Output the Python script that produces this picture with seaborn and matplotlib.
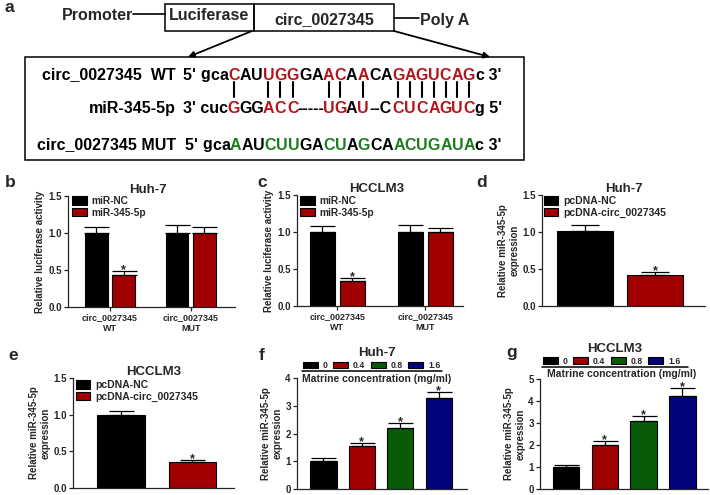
import numpy as np
import pandas as pd
import matplotlib
matplotlib.use("Agg")
import matplotlib.pyplot as plt
import seaborn as sns
from matplotlib.patches import Rectangle, Patch, FancyArrowPatch
from matplotlib.lines import Line2D
from matplotlib.font_manager import FontProperties

#%% values
luc_targets = ["circ_0027345\nWT", "circ_0027345\nMUT"]
luc_mimics = ["miR-NC", "miR-345-5p"]
# order: WT/NC, WT/miR, MUT/NC, MUT/miR
huh7_luc = [1.00, 0.43, 1.00, 1.00]
huh7_luc_err = [0.085, 0.06, 0.11, 0.08]
hcclm3_luc = [1.00, 0.34, 1.00, 1.00]
hcclm3_luc_err = [0.08, 0.04, 0.09, 0.06]
luc_star = [False, True, False, False]

oe_groups = ["pcDNA-NC", "pcDNA-circ_0027345"]
huh7_oe = [1.01, 0.42]
huh7_oe_err = [0.09, 0.04]
hcclm3_oe = [1.00, 0.35]
hcclm3_oe_err = [0.05, 0.035]
oe_star = [False, True]

matrine_dose = ["0", "0.4", "0.8", "1.6"]
huh7_mat = [1.01, 1.55, 2.21, 3.27]
huh7_mat_err = [0.09, 0.12, 0.18, 0.24]
hcclm3_mat = [1.01, 1.99, 3.10, 4.24]
hcclm3_mat_err = [0.06, 0.19, 0.22, 0.34]
mat_star = [False, True, True, True]

# panel a sequences, 'x' marks a coloured letter
wt_seq = "gcaCAUUGGGAACAACAGAGUCAGc"
wt_mask = "...x..xxx..xx.x..xxxxxxx."
mir_seq = "cucGGGACC-----UGAU--CCUCAGUCg"
mir_mask = "...x..xxx.....xx.x...xxxxxxx."
mut_seq = "gcaAAUCUUGACUAGCAACUGAUAc"
mut_mask = wt_mask

K = "black"
RED = "#a00000"
GRN = "#085c08"
BLU = "#03037c"
TXT_RED = "#b3151b"
TXT_GRN = "#1c7d1c"

#%% figure
sns.set_style("ticks")
plt.rcParams['font.family'] = ['Liberation Sans', 'DejaVu Sans']
plt.rcParams['axes.linewidth'] = 0.9
plt.rcParams['xtick.major.width'] = 0.9
plt.rcParams['ytick.major.width'] = 0.9

W, H = 710, 495
fig = plt.figure(figsize=(W / 100, H / 100), dpi=100)
renderer = fig.canvas.get_renderer()


def fx(px):
    return px / W


def fy(py):
    return 1 - py / H


def add_ax(l, t, r, b):
    return fig.add_axes([fx(l), fy(b), (r - l) / W, (b - t) / H])


def letter(x, y, s):
    fig.text(fx(x), fy(y), s, fontsize=12.5, fontweight="bold", ha="center", va="center")


def style(ax, ymax, ystep, ylabel, xlim, fmt):
    ax.set_xlim(*xlim)
    ax.set_ylim(0, ymax)
    ticks = np.arange(0, ymax + 1e-9, ystep)
    ax.set_yticks(ticks, labels=[fmt.format(t) for t in ticks], fontweight="bold")
    sns.despine(ax=ax)
    ax.set_xlabel("")
    ax.set_ylabel(ylabel, fontsize=7, fontweight="bold", labelpad=2)
    ax.tick_params(axis="y", labelsize=7, length=3, pad=1.5)
    ax.tick_params(axis="x", labelsize=6.5, length=3, pad=1.5)


def add_err(ax, errs, stars, capsize=9):
    bars = sorted(ax.patches, key=lambda p: p.get_x())
    xs = [p.get_x() + p.get_width() / 2 for p in bars]
    ys = [p.get_height() for p in bars]
    ax.errorbar(xs, ys, yerr=[np.zeros(len(errs)), errs], fmt="none", ecolor="black",
                elinewidth=0.9, capsize=capsize, capthick=0.9, zorder=3)
    for x, y, e, s in zip(xs, ys, errs, stars):
        if s:
            ax.annotate("*", (x, y + e), xytext=(0, -1.5), textcoords="offset points",
                        ha="center", va="baseline", fontsize=9, fontweight="bold")


def patch_legend(ax, labels, colors, x, y, **kw):
    handles = [Patch(facecolor=c, edgecolor="black", linewidth=0.8) for c in colors]
    return ax.legend(handles, labels, bbox_to_anchor=(fx(x), fy(y)), bbox_transform=fig.transFigure,
                     frameon=False, borderpad=0, borderaxespad=0, **kw)


#%% panel a
letter(9, 7, "a")
fs_a = 11.5
seq_prop = FontProperties(family=["Liberation Sans"], weight="bold", size=fs_a)


def adv(s):
    w1, _, _ = renderer.get_text_width_height_descent("H" + s + "H", seq_prop, False)
    w0, _, _ = renderer.get_text_width_height_descent("HH", seq_prop, False)
    return w1 - w0


def put(x, y, s, color=K, ha="left"):
    fig.text(fx(x), fy(y), s, color=color, fontproperties=seq_prop, ha=ha, va="baseline")


fig.text(fx(133), fy(15), "Promoter", fontproperties=seq_prop, ha="right", va="center")
fig.add_artist(Line2D([fx(133), fx(165)], [fy(14), fy(14)], color=K, lw=1.2))
fig.add_artist(Rectangle((fx(165), fy(31)), (254 - 165) / W, (31 - 4) / H, fill=False, ec=K, lw=1.1))
fig.add_artist(Rectangle((fx(254), fy(31)), (394 - 254) / W, (31 - 4) / H, fill=False, ec=K, lw=1.1))
fig.text(fx(209.5), fy(15), "Luciferase", fontproperties=seq_prop, ha="center", va="center")
fig.text(fx(324), fy(20), "circ_0027345", fontproperties=seq_prop, ha="center", va="center")
fig.add_artist(Line2D([fx(394), fx(419)], [fy(18), fy(18)], color=K, lw=1.2))
fig.text(fx(420), fy(20), "Poly A", fontproperties=seq_prop, ha="left", va="center")
for a, b in [((252, 31), (188, 57)), ((394, 31), (490, 57))]:
    fig.add_artist(FancyArrowPatch((fx(a[0]), fy(a[1])), (fx(b[0]), fy(b[1])),
                                   arrowstyle="-|>", mutation_scale=9, lw=1.3, color=K,
                                   shrinkA=0, shrinkB=0, transform=fig.transFigure))
fig.add_artist(Rectangle((fx(25), fy(160)), (524 - 25) / W, (160 - 57) / H, fill=False, ec=K, lw=1.1))


def draw_seq(x, y, prefix, seq, mask, suffix, hi):
    put(x, y, prefix)
    x += adv(prefix)
    centers = []
    for ch, m in zip(seq, mask):
        w = adv(ch)
        put(x + w / 2, y, ch, hi if m == "x" else K, ha="center")
        if m == "x":
            centers.append(x + w / 2)
        x += w
    put(x, y, suffix)
    return centers


y_wt, y_mir, y_mut = 79.5, 113, 149.5
put(176, y_wt, "circ_0027345  WT", ha="right")
wt_centers = draw_seq(183, y_wt, "5' ", wt_seq, wt_mask, " 3'", TXT_RED)
put(176, y_mut, "circ_0027345 MUT", ha="right")
draw_seq(185, y_mut, "5' ", mut_seq, mut_mask, " 3'", TXT_GRN)

for cx in wt_centers:
    fig.add_artist(Line2D([fx(cx), fx(cx)], [fy(82), fy(97)], color=K, lw=1.5))

# miR row: paired letters sit under the WT partners
reds = [i for i, m in enumerate(mir_mask) if m == "x"]
edges = []
for i, cx in zip(reds, wt_centers):
    w = adv(mir_seq[i])
    put(cx, y_mir, mir_seq[i], TXT_RED, ha="center")
    edges.append((cx - w / 2, cx + w / 2))
for j in range(len(reds) - 1):
    run = mir_seq[reds[j] + 1:reds[j + 1]]
    if run:
        put((edges[j][1] + edges[j + 1][0]) / 2, y_mir, run, K, ha="center")
head = "3' " + mir_seq[:reds[0]]
put(edges[0][0], y_mir, head, ha="right")
put(edges[-1][1], y_mir, mir_seq[reds[-1] + 1:] + " 5'")
put(edges[0][0] - adv(head) - 7, y_mir, "miR-345-5p", ha="right")

#%% panels b, c: luciferase reporter
for pos, vals, errs, title, tx, lab, legxy in [
        ((68, 196, 235, 307), huh7_luc, huh7_luc_err, "Huh-7", 0.479, (10, 183), (72, 196)),
        ((297, 195, 463, 306), hcclm3_luc, hcclm3_luc_err, "HCCLM3", 0.482, (262, 183), (300, 196))]:
    ax = add_ax(*pos)
    df = pd.DataFrame({"target": np.repeat(luc_targets, 2), "mimic": luc_mimics * 2, "value": vals})
    sns.barplot(data=df, x="target", y="value", hue="mimic", palette=[K, RED], saturation=1,
                width=0.68, gap=0.17, edgecolor="black", linewidth=0.8, errorbar=None,
                legend=False, ax=ax)
    add_err(ax, errs, luc_star)
    style(ax, 1.5, 0.5, "Relative luciferase activity", (-0.52, 1.55) if title == "Huh-7" else (-0.46, 1.43), "{:.1f}")
    for t in ax.get_xticklabels():
        t.set_fontweight("bold")
    ax.set_title(title, fontsize=9.5, fontweight="bold", pad=0.5, x=tx)
    patch_legend(ax, luc_mimics, [K, RED], *legxy, loc="upper left",
                 prop={"weight": "bold", "size": 7.3}, handlelength=1.45, handleheight=0.95,
                 handletextpad=0.5, labelspacing=0.15)
    letter(*lab, "b" if title == "Huh-7" else "c")

#%% panels d, e: overexpression
for pos, vals, errs, title, xlim, bw, lab, name, legxy, cap in [
        ((542, 195, 705, 306), huh7_oe, huh7_oe_err, "Huh-7", (-0.61, 1.71), 0.8, (482, 183), "d", (544, 196), 10),
        ((73, 378, 234, 488), hcclm3_oe, hcclm3_oe_err, "HCCLM3", (-0.67, 1.58), 0.67, (13, 355), "e", (76, 380), 9)]:
    ax = add_ax(*pos)
    sns.barplot(x=oe_groups, y=vals, hue=oe_groups, palette=[K, RED], saturation=1, width=bw,
                edgecolor="black", linewidth=0.8, errorbar=None, legend=False, ax=ax)
    add_err(ax, errs, oe_star, capsize=cap)
    style(ax, 1.5, 0.5, "Relative miR-345-5p\nexpression", xlim, "{:.1f}")
    ax.set_xticks([])
    ax.set_title(title, fontsize=9.5, fontweight="bold", pad=2.4)
    patch_legend(ax, oe_groups, [K, RED], *legxy, loc="upper left",
                 prop={"weight": "bold", "size": 7.5}, handlelength=1.35, handleheight=0.9,
                 handletextpad=0.5, labelspacing=0.15)
    letter(*lab, name)

#%% panels f, g: matrine dose
for pos, vals, errs, title, tx, pad, ymax, xlim, lab, name, legy, line, txt in [
        ((297, 378, 467, 489), huh7_mat, huh7_mat_err, "Huh-7", 0.47, 16, 4, (-0.69, 3.74),
         (262, 355), "f", 370, (302, 442, 371), (302, 379)),
        ((540, 379, 708, 489), hcclm3_mat, hcclm3_mat_err, "HCCLM3", 0.446, 19.7, 5, (-0.67, 3.66),
         (512, 352), "g", 365.5, (542, 688, 366.5), (547, 374))]:
    ax = add_ax(*pos)
    sns.barplot(x=matrine_dose, y=vals, hue=matrine_dose, palette=[K, RED, GRN, BLU], saturation=1,
                width=0.68, edgecolor="black", linewidth=0.8, errorbar=None, legend=False, ax=ax)
    add_err(ax, errs, mat_star)
    style(ax, ymax, 1, "Relative miR-345-5p\nexpression", xlim, "{:g}")
    ax.set_xticks([])
    ax.set_title(title, fontsize=9.5, fontweight="bold", pad=pad, x=tx)
    patch_legend(ax, matrine_dose, [K, RED, GRN, BLU], line[0] + 1, legy, loc="lower left", ncol=4,
                 prop={"weight": "bold", "size": 6.2}, handlelength=1.7, handleheight=0.85,
                 handletextpad=0.6, columnspacing=0.65)
    fig.add_artist(Line2D([fx(line[0]), fx(line[1])], [fy(line[2]), fy(line[2])], color=K, lw=1.1))
    fig.text(fx(txt[0]), fy(txt[1]), "Matrine concentration (mg/ml)", fontsize=7.5,
             fontweight="bold", ha="left", va="center")
    letter(*lab, name)

plt.savefig("out.png", dpi=100)
